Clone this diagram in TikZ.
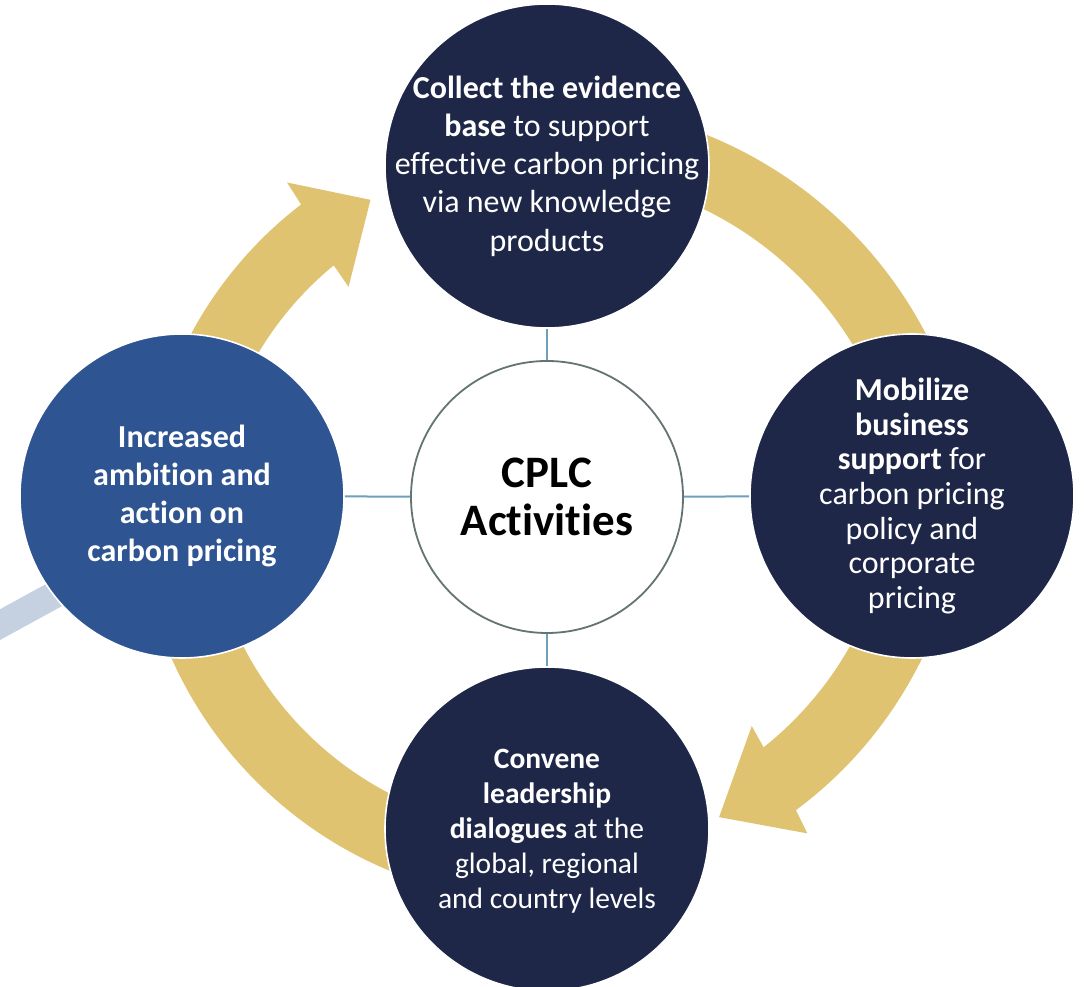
\documentclass[tikz,border=0pt]{standalone}
\usepackage{fontspec}
\setmainfont{Carlito}[Ligatures=NoCommon]
\usetikzlibrary{backgrounds}
\definecolor{navy}{HTML}{1F2748}
\definecolor{midblue}{HTML}{2E5492}
\definecolor{gold}{HTML}{DFC371}
\definecolor{linkblue}{HTML}{6EA0BE}
\definecolor{paleblue}{HTML}{C5D0E0}
\definecolor{ringgray}{HTML}{647373}
\begin{document}
\begin{tikzpicture}[x=1pt,y=1pt,
  bubble/.style={circle, minimum size=324pt, inner sep=0pt, draw=white, line width=1.6pt},
  caption/.style={text=white, align=center, inner sep=0pt, font=\fontsize{32}{38.2}\selectfont},
  hub/.style={circle, minimum size=272pt, inner sep=0pt, draw=ringgray, line width=1.8pt,
    fill=white, text=black, align=center, font=\fontsize{45}{48}\selectfont\bfseries},
  conn/.style={draw=linkblue, line width=2pt},
  band/.style={fill=gold},
  extlink/.style={draw=paleblue, line width=27pt}]
\useasboundingbox (0,0) rectangle (1084,987);

\node[hub] (hub) at (547,490) {CPLC\\Activities};
\node[bubble, fill=navy] (top) at (547,821) {};
\node[bubble, fill=navy] (right) at (912,491) {};
\node[bubble, fill=navy] (bottom) at (547,158) {};
\node[bubble, fill=midblue] (left) at (182,491) {};

\node[caption] (topText) at (top.center)
  {\textbf{Collect the evidence}\\\textbf{base} to support\\effective carbon pricing\\via new knowledge\\products};
\node[caption, font=\fontsize{32}{34.7}\selectfont] (rightText) at (right.center)
  {\textbf{Mobilize}\\\textbf{business}\\\textbf{support} for\\carbon pricing\\policy and\\corporate\\pricing};
\node[caption, font=\fontsize{29.5}{35}\selectfont] (bottomText) at ([yshift=-2pt]bottom.center)
  {\textbf{Convene}\\\textbf{leadership}\\\textbf{dialogues} at the\\global, regional\\and country levels};
\node[caption, font=\fontsize{32}{37.7}\selectfont\bfseries] (leftText) at (left.center)
  {Increased\\ambition and\\action on\\carbon pricing};

\draw[conn] (top) -- (hub);
\draw[conn] (hub) -- (right);
\draw[conn] (hub) -- (bottom);
\draw[conn] (left) -- (hub);

\begin{pgfonlayer}{background}
  \fill[white] (0,0) rectangle (1084,987);
  \coordinate (extA) at (-30,346);
  \coordinate (extB) at (120,428);
  \draw[extlink] (extA) -- (extB);
  % top -> right
  \fill[band, shift={(547,456)}] (90:427) arc[start angle=90, end angle=5, radius=427]
    -- (5:358) arc[start angle=5, end angle=90, radius=358] -- cycle;
  % bottom -> left
  \fill[band, shift={(547,496)}] (265:411) arc[start angle=265, end angle=185, radius=411]
    -- (185:341) arc[start angle=185, end angle=265, radius=341] -- cycle;
  % left -> top (arrow)
  \fill[band, shift={(547,462)}] (180:404) arc[start angle=180, end angle=127.5, radius=404]
    -- (127.2:430) -- (118.5:370) -- (129.8:310) -- (129.4:336)
    arc[start angle=129.4, end angle=180, radius=336] -- cycle;
  % right -> bottom (arrow)
  \fill[band, shift={(547,512)}] (0:417.5) arc[start angle=0, end angle=-53.4, radius=417.5]
    -- (-54:443) -- (-63.3:383) -- (-50.8:324) -- (-51.5:348)
    arc[start angle=-51.5, end angle=0, radius=348] -- cycle;
\end{pgfonlayer}
\end{tikzpicture}
\end{document}
